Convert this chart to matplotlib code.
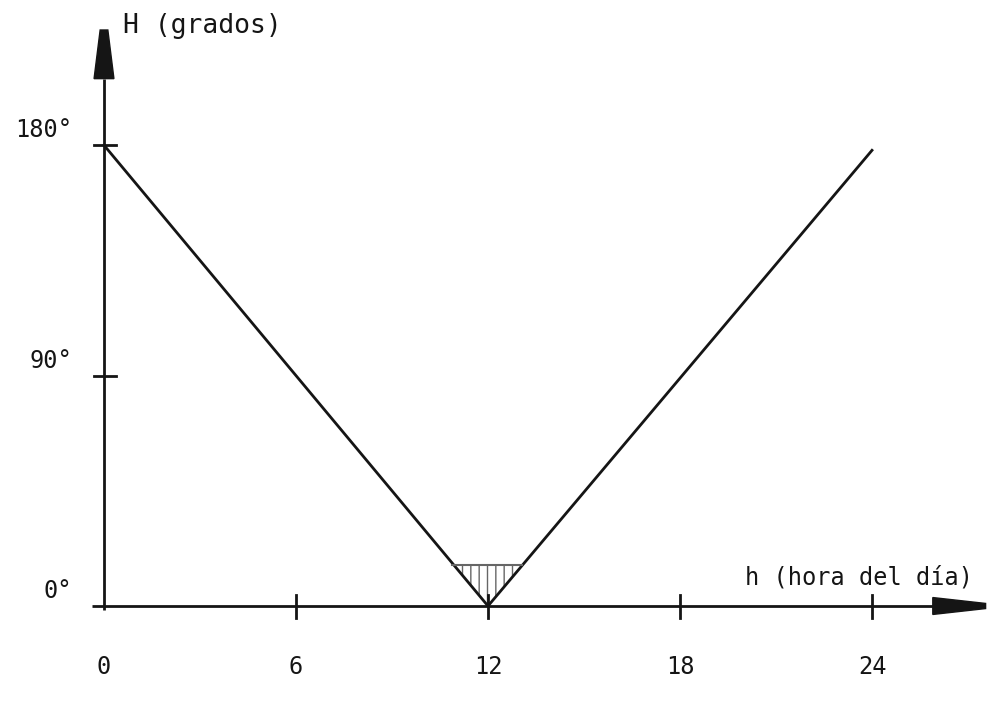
import numpy as np
import matplotlib; matplotlib.use('Agg')
import matplotlib.pyplot as plt
from matplotlib.patches import Polygon

# angulo horario H vs hora del dia h
hours = [0, 12, 24]
angles = [180, 0, 178]
xticks = [6, 12, 18, 24]
xlabels = ['0', '6', '12', '18', '24']
xlabel_pos = [0, 6, 12, 18, 24]
yticks = [90, 180]
ylabels = ['0°', '90°', '180°']
ylabel_pos = [0, 90, 180]
shade_top = 16

INK = '#151515'
FONT = 'DejaVu Sans Mono'

fig = plt.figure(figsize=(9.94, 7.01), dpi=100)
ax = fig.add_axes([0, 0, 1, 1])
# pixel mapping: x=0 -> 104 px, 32 px/hour ; y=0 -> 606 px, 2.56 px/deg
ax.set_xlim(-104 / 32, (994 - 104) / 32)
ax.set_ylim((606 - 701) / 2.56, 606 / 2.56)
ax.axis('off')

# axes lines
ax.plot([-0.375, 26.0], [0, 0], color=INK, lw=2.0, solid_capstyle='butt')
ax.plot([0, 0], [-1.5, 206], color=INK, lw=2.0, solid_capstyle='butt')

# arrowheads
ax.add_patch(Polygon([[-0.31, 206], [0.31, 206], [0.12, 225], [-0.12, 225]],
                     closed=True, color=INK))
ax.add_patch(Polygon([[25.9, 3.3], [25.9, -3.3], [27.55, -1.0], [27.55, 1.0]],
                     closed=True, color=INK))

# ticks
for t in xticks:
    ax.plot([t, t], [-4.7, 4.3], color=INK, lw=2.0)
for t in yticks:
    ax.plot([-0.31, 0.375], [t, t], color=INK, lw=2.0)

# V curve
ax.plot(hours, angles, color=INK, lw=2.0)

# shaded triangle near noon
xl = 12 - shade_top / 15
xr = 12 + shade_top / 15
tri = Polygon([[xl, shade_top], [xr, shade_top], [12, 0]], closed=True,
              facecolor='none', edgecolor='#666666', hatch='||', lw=0)
ax.add_patch(tri)
ax.plot([xl - 0.05, xr], [shade_top, shade_top], color='#666666', lw=1.5)

# labels
for x, s in zip(xlabel_pos, xlabels):
    ax.text(x, -23.8, s, ha='center', va='center', fontsize=17, family=FONT, color=INK)
for y, s in zip(ylabel_pos, ylabels):
    ax.text(-1.0, y + 1.2, s, ha='right', va='bottom', fontsize=17, family=FONT, color=INK)

ax.text(0.59, 226.5, 'H (grados)', ha='left', va='center', fontsize=19,
        family=FONT, color=INK)
ax.text(20.03, 11.3, 'h (hora del día)', ha='left', va='center', fontsize=17,
        family=FONT, color=INK)

plt.savefig('out.png', dpi=100)
plt.close()
